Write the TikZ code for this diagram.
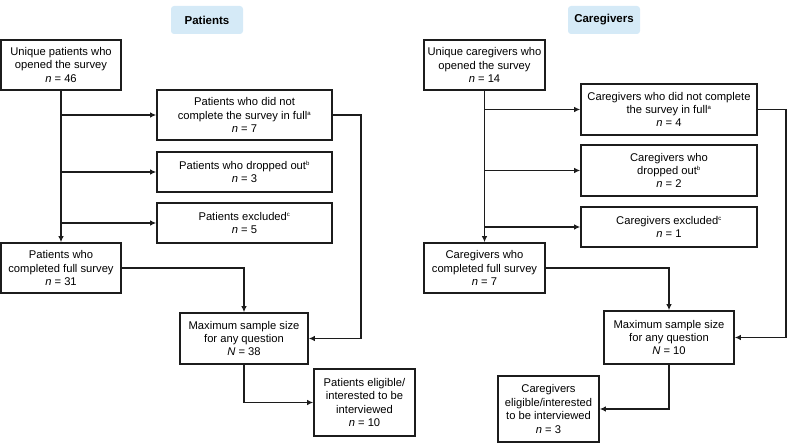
\documentclass[tikz,border=0pt]{standalone}
\usepackage{fontspec}
\setmainfont{Liberation Sans}
\usetikzlibrary{arrows.meta,positioning}
\definecolor{Ink}{HTML}{1C1C1C}
\definecolor{HeadBlue}{HTML}{D5EAF7}
\tikzset{
  >={Latex[length=6pt,width=5.5pt]},
  txt/.style={font=\fontsize{11.2}{13.4}\selectfont},
  box/.style={txt,draw=Ink,line width=1.6pt,fill=white,align=center,inner sep=1pt},
  sz/.style 2 args={minimum width=#1pt,minimum height=#2pt},
  head/.style={txt,fill=HeadBlue,rounded corners=3pt,minimum width=72pt,minimum height=28pt,font=\fontsize{11.5}{13}\selectfont\bfseries},
  flow/.style={->,line width=1.7pt,draw=Ink}
}
\newcommand{\nn}[1]{\textit{n} = #1}
\newcommand{\fn}[1]{\textsuperscript{\fontsize{6}{6}\selectfont #1}}

\begin{document}
\begin{tikzpicture}[x=1pt,y=-1pt]
  \useasboundingbox (0,0) rectangle (787,443);
  % patients
  \node[head] (hp) at (207,20) {Patients};
  \node[box,sz={120}{50}] (p1) at (61,65) {Unique patients who\\opened the survey\\\nn{46}};
  \node[box,sz={175}{50}] (p2) at (244.5,115) {Patients who did not\\complete the survey in full\fn{a}\\\nn{7}};
  \node[box,sz={175}{40}] (p3) at (244.5,172) {Patients who dropped out\fn{b}\\\nn{3}};
  \node[box,sz={175}{40}] (p4) at (244.5,223) {Patients excluded\fn{c}\\\nn{5}};
  \node[box,sz={120}{50}] (p5) at (61,268) {Patients who\\completed full survey\\\nn{31}};
  \node[box,sz={128}{51}] (p6) at (244,338.5) {Maximum sample size\\for any question\\\textit{N} = 38};
  \node[box,sz={101}{67}] (p7) at (364.5,402.5) {Patients eligible/\\interested to be\\interviewed\\\nn{10}};
  \draw[flow] (p1) -- (p5);
  \draw[flow] (p1.south |- p2.west) -- (p2.west);
  \draw[flow] (p1.south |- p3.west) -- (p3.west);
  \draw[flow] (p1.south |- p4.west) -- (p4.west);
  \draw[flow] (p5.east) -| (p6.north);
  \draw[flow] (p2.east) -- ++(28,0) |- (p6.east);
  \draw[flow] (p6.south) |- (p7.west);
  % caregivers
  \node[head] (hc) at (604,20) {Caregivers};
  \node[box,sz={121}{50}] (c1) at (484.5,65) {Unique caregivers who\\opened the survey\\\nn{14}};
  \node[box,sz={176}{51}] (c2) at (669,109.5) {Caregivers who did not complete\\the survey in full\fn{a}\\\nn{4}};
  \node[box,sz={176}{51}] (c3) at (669,170.5) {Caregivers who\\dropped out\fn{b}\\\nn{2}};
  \node[box,sz={176}{40}] (c4) at (669,227) {Caregivers excluded\fn{c}\\\nn{1}};
  \node[box,sz={121}{50}] (c5) at (484.5,268) {Caregivers who\\completed full survey\\\nn{7}};
  \node[box,sz={130}{53}] (c6) at (669,337.5) {Maximum sample size\\for any question\\\textit{N} = 10};
  \node[box,sz={101}{66}] (c7) at (548.5,409) {Caregivers\\eligible/interested\\to be interviewed\\\nn{3}};
  \draw[flow] (c1) -- (c5);
  \draw[flow] (c1.south |- c2.west) -- (c2.west);
  \draw[flow] (c1.south |- c3.west) -- (c3.west);
  \draw[flow] (c1.south |- c4.west) -- (c4.west);
  \draw[flow] (c5.east) -| (c6.north);
  \draw[flow] (c2.east) -- ++(28,0) |- (c6.east);
  \draw[flow] (c6.south) |- (c7.east);
\end{tikzpicture}
\end{document}
